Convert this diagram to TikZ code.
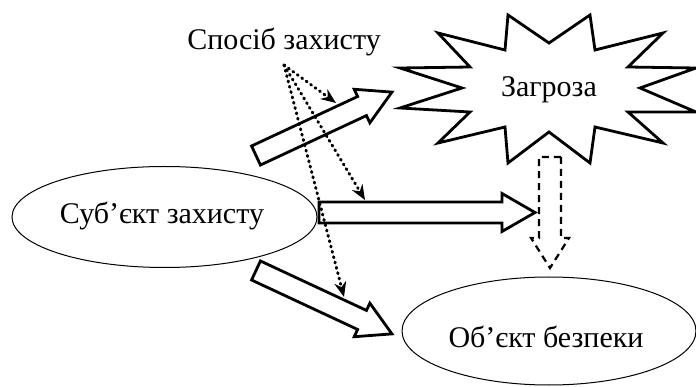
\documentclass[tikz,border=0pt]{standalone}
\usepackage{fontspec}
\setmainfont{Liberation Serif}
\usetikzlibrary{shapes.geometric,arrows.meta,calc}
\tikzset{
  lbl/.style={font=\fontsize{30}{36}\selectfont, inner sep=0pt},
  oval/.style={ellipse, draw, line width=1pt, inner sep=0pt},
  hollow/.style={draw, line width=2.8pt, line join=miter, fill=white},
  dashedhollow/.style={draw, line width=2.2pt, dash pattern=on 7pt off 5pt},
  dots/.style={line width=3pt, dash pattern=on 1pt off 4.5pt, line cap=round,
     -{Stealth[length=15pt,width=12pt,line cap=butt]}},
}
% #1 style, #2 tail coordinate, #3 angle, #4 length, #5 shaft half width, #6 head half width, #7 head length
\newcommand\blockarr[7]{%
  \begin{scope}[shift={(#2)}, rotate=#3]
    \draw[#1] (0,-#5) -- ({#4-#7},-#5) -- ({#4-#7},-#6) -- (#4,0)
      -- ({#4-#7},#6) -- ({#4-#7},#5) -- (0,#5) -- cycle;
  \end{scope}}
\begin{document}
\begin{tikzpicture}[x=1pt,y=-1pt]
  \useasboundingbox (0,0) rectangle (696,387);
  % star
  \draw[line width=2.8pt, line join=miter, fill=white]
    (508,15) -- (549,43) -- (590,15) -- (595,50) -- (663,33) -- (628,67)
    -- (696,68) -- (640,88) -- (696,112) -- (628,112) -- (663,143) -- (595,127)
    -- (590,163) -- (549,132) -- (508,163) -- (505,127) -- (438,143) -- (470,112)
    -- (400,108) -- (462,88) -- (400,68) -- (470,67) -- (438,33) -- (505,50) -- cycle;
  \node[lbl] (threat) at (549,90) {Загроза};
  % ellipses
  \node[oval, minimum width=305pt, minimum height=101pt] (subj) at (164.5,217) {};
  \node[lbl] (subjt) at (162,216) {Суб’єкт захисту};
  \node[oval, minimum width=294pt, minimum height=108pt] (obj) at (549,331) {};
  \node[lbl] (objt) at (546,337) {Об’єкт безпеки};
  \node[lbl] (way) at (284,42) {Спосіб захисту};
  % coordinates for connectors
  \coordinate (ta) at (256,155.5);
  \coordinate (tb) at (319,212.5);
  \coordinate (tc) at (256,270.5);
  \coordinate (td) at (550,157);
  % block arrows
  \blockarr{hollow}{ta}{25}{150}{10.5}{18.5}{33}
  \blockarr{hollow}{tb}{0}{216}{10.5}{19}{33}
  \blockarr{hollow}{tc}{-25}{150}{10.5}{18.5}{33}
  \blockarr{dashedhollow}{td}{-90}{111}{11}{19}{30}
  % dotted arrows
  \coordinate (src) at (284,65);
  \coordinate (d1) at (336,103);
  \coordinate (d2) at (365,200);
  \coordinate (d3) at (344,297);
  \draw[dots] (src) -- (d1);
  \draw[dots] (src) -- (d2);
  \draw[dots] (src) -- (d3);
\end{tikzpicture}
\end{document}
